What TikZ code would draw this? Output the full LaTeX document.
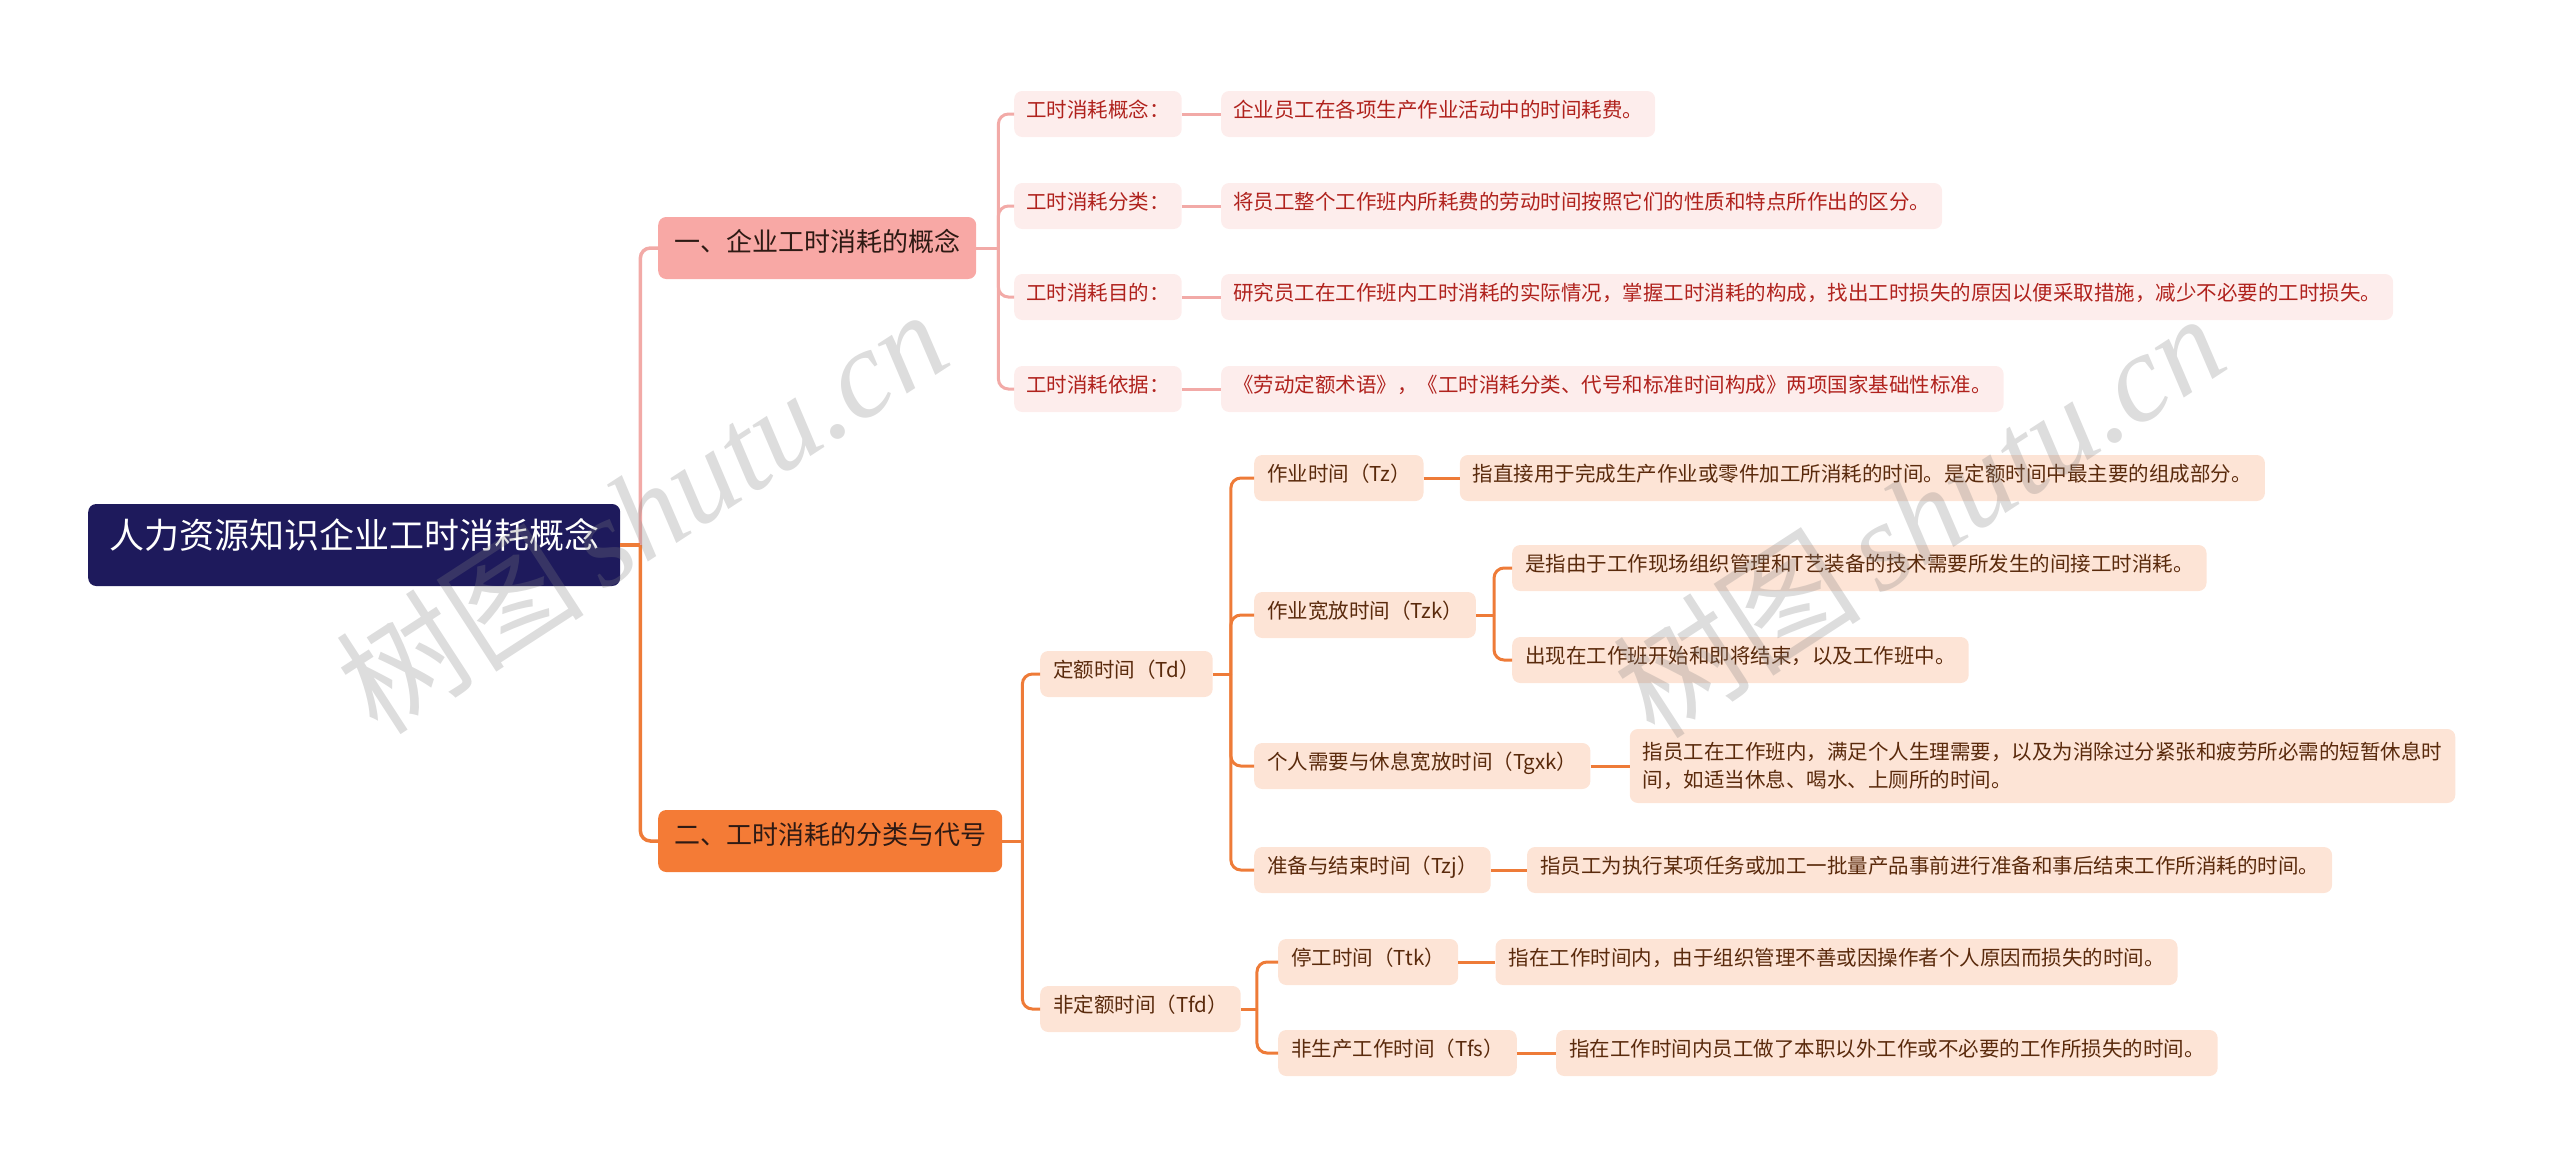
\documentclass[tikz,border=0pt]{standalone}
\usepackage{fontspec}
\setmainfont{Noto Sans CJK SC}
\newfontfamily\wmserif{Liberation Serif}
\usetikzlibrary{calc}
\definecolor{navy}{HTML}{1E1A5C}
\definecolor{pinkA}{HTML}{F8A8A5}
\definecolor{pinkL}{HTML}{FDEDEC}
\definecolor{pinkT}{HTML}{B0221D}
\definecolor{pinkLine}{HTML}{F2AAA7}
\definecolor{orA}{HTML}{F47B36}
\definecolor{orL}{HTML}{FDE4D6}
\definecolor{orT}{HTML}{5A2A0C}
\definecolor{orLine}{HTML}{EE7B38}
\definecolor{darkT}{HTML}{2E1A14}
\begin{document}
\begin{tikzpicture}[x=1pt,y=-1pt,
  box/.style={rounded corners=8pt, inner ysep=0pt, inner xsep=12pt, anchor=west, text height=0.88em, text depth=0.12em},
  rootbox/.style={box, fill=navy, text=white, font=\fontsize{35}{42}\selectfont, minimum height=82pt, inner xsep=21pt},
  bOne/.style={box, fill=pinkA, text=darkT, font=\fontsize{26}{32}\selectfont, minimum height=62pt, inner xsep=16pt},
  bTwo/.style={box, fill=orA, text=darkT, font=\fontsize{26}{32}\selectfont, minimum height=62pt, inner xsep=16pt},
  pbox/.style={box, fill=pinkL, text=pinkT, font=\fontsize{20.5}{28}\selectfont, minimum height=46pt},
  obox/.style={box, fill=orL, text=orT, font=\fontsize{20.5}{28}\selectfont, minimum height=46pt, inner xsep=13pt},
  pline/.style={draw=pinkLine, line width=3pt},
  oline/.style={draw=orLine, line width=3pt},
  elbow/.style={rounded corners=10pt},
  wm/.style={text=black!50, text opacity=0.27, rotate=33, font=\fontsize{125}{130}\selectfont, inner sep=0pt}
]
\useasboundingbox (0,0) rectangle (2560,1165);

% root
\node[rootbox] (root) at (88,545) {人力资源知识企业工时消耗概念};
\coordinate (j0) at ($(root.east)+(20,0)$);

% branch 1
\node[bOne] (b1) at (658,248) {一、企业工时消耗的概念};
\node[pbox] (p1) at (1014,114) {工时消耗概念：};
\node[pbox] (p2) at (1014,206) {工时消耗分类：};
\node[pbox] (p3) at (1014,297) {工时消耗目的：};
\node[pbox] (p4) at (1014,389) {工时消耗依据：};
\node[pbox] (q1) at ($(p1.east)+(39,0)$) {企业员工在各项生产作业活动中的时间耗费。};
\node[pbox] (q2) at ($(p2.east)+(39,0)$) {将员工整个工作班内所耗费的劳动时间按照它们的性质和特点所作出的区分。};
\node[pbox] (q3) at ($(p3.east)+(39,0)$) {研究员工在工作班内工时消耗的实际情况，掌握工时消耗的构成，找出工时损失的原因以便采取措施，减少不必要的工时损失。};
\node[pbox] (q4) at ($(p4.east)+(39,0)$) {《劳动定额术语》，《工时消耗分类、代号和标准时间构成》两项国家基础性标准。};

% branch 2
\node[bTwo] (b2) at (658,841) {二、工时消耗的分类与代号};
\node[obox] (td) at (1040,674) {定额时间（Td）};
\node[obox] (tfd) at (1040,1009) {非定额时间（Tfd）};
\node[obox] (tz) at (1254,478) {作业时间（Tz）};
\node[obox] (tzk) at (1254,615) {作业宽放时间（Tzk）};
\node[obox] (tgxk) at (1254,766) {个人需要与休息宽放时间（Tgxk）};
\node[obox] (tzj) at (1254,870) {准备与结束时间（Tzj）};
\node[obox] (ttk) at (1278,962) {停工时间（Ttk）};
\node[obox] (tfs) at (1278,1053) {非生产工作时间（Tfs）};
\node[obox] (ltz) at ($(tz.east)+(36,0)$) {指直接用于完成生产作业或零件加工所消耗的时间。是定额时间中最主要的组成部分。};
\node[obox] (lzk1) at ($(tzk.east)+(36,-47)$) {是指由于工作现场组织管理和T艺装备的技术需要所发生的间接工时消耗。};
\node[obox] (lzk2) at ($(tzk.east)+(36,45)$) {出现在工作班开始和即将结束，以及工作班中。};
\node[obox, align=left, text height=, text depth=, inner ysep=8pt, minimum height=74pt] (lgx) at ($(tgxk.east)+(39,0)$) {\baselineskip=29pt 指员工在工作班内，满足个人生理需要，以及为消除过分紧张和疲劳所必需的短暂休息时\\间，如适当休息、喝水、上厕所的时间。};
\node[obox] (lzj) at ($(tzj.east)+(36,0)$) {指员工为执行某项任务或加工一批量产品事前进行准备和事后结束工作所消耗的时间。};
\node[obox] (ltk) at ($(ttk.east)+(37,0)$) {指在工作时间内，由于组织管理不善或因操作者个人原因而损失的时间。};
\node[obox] (lfs) at ($(tfs.east)+(39,0)$) {指在工作时间内员工做了本职以外工作或不必要的工作所损失的时间。};

% connectors root
\draw[pline, line width=3.5pt] (root.east) -- (j0);
\draw[pline, line width=3.5pt, elbow] (j0) |- (b1.west);
\draw[oline, line width=3.5pt] (root.east) -- (j0);
\draw[oline, line width=3.5pt, elbow] (j0) |- (b2.west);

% connectors branch 1
\coordinate (j1) at ($(b1.east)+(22,0)$);
\draw[pline] (b1.east) -- (j1);
\foreach \n in {p1,p2,p3,p4} \draw[pline, elbow] (j1) |- (\n.west);
\draw[pline] (p1.east) -- (q1.west);
\draw[pline] (p2.east) -- (q2.west);
\draw[pline] (p3.east) -- (q3.west);
\draw[pline] (p4.east) -- (q4.west);

% connectors branch 2
\coordinate (j2) at ($(b2.east)+(20,0)$);
\draw[oline] (b2.east) -- (j2);
\draw[oline, elbow] (j2) |- (td.west);
\draw[oline, elbow] (j2) |- (tfd.west);
\coordinate (j3) at ($(td.east)+(18,0)$);
\draw[oline] (td.east) -- (j3);
\foreach \n in {tz,tzk,tgxk,tzj} \draw[oline, elbow] (j3) |- (\n.west);
\coordinate (j4) at ($(tzk.east)+(18,0)$);
\draw[oline] (tzk.east) -- (j4);
\draw[oline, elbow] (j4) |- (lzk1.west);
\draw[oline, elbow] (j4) |- (lzk2.west);
\coordinate (j5) at ($(tfd.east)+(16,0)$);
\draw[oline] (tfd.east) -- (j5);
\draw[oline, elbow] (j5) |- (ttk.west);
\draw[oline, elbow] (j5) |- (tfs.west);
\draw[oline] (tz.east) -- (ltz.west);
\draw[oline] (tgxk.east) -- (lgx.west);
\draw[oline] (tzj.east) -- (lzj.west);
\draw[oline] (ttk.east) -- (ltk.west);
\draw[oline] (tfs.east) -- (lfs.west);

% watermarks
\node[wm] (wm1) at (641,510) {树图\hspace{0.15em}{\wmserif\itshape shutu.cn}};
\node[wm] (wm2) at (1918,514) {树图\hspace{0.15em}{\wmserif\itshape shutu.cn}};
\end{tikzpicture}
\end{document}
